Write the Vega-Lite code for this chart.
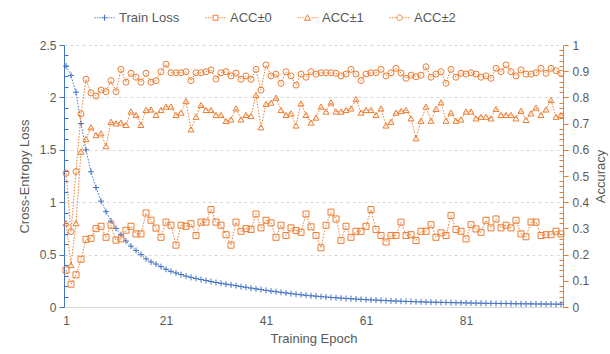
{
  "$schema": "https://vega.github.io/schema/vega-lite/v6.json",
  "width": 499,
  "height": 262,
  "autosize": {"type": "none"},
  "padding": {"left": 64, "top": 45, "right": 47, "bottom": 47},
  "background": "white",
  "config": {
    "view": {"stroke": null},
    "font": "Liberation Sans",
    "axis": {
      "labelFont": "Liberation Sans",
      "titleFont": "Liberation Sans",
      "labelFontSize": 12,
      "labelColor": "#595959",
      "titleFontSize": 13,
      "titleColor": "#595959",
      "titleFontWeight": "normal"
    }
  },
  "data": {"values": [
    {"epoch":1,"Train Loss":2.30,"ACC±0":0.141,"ACC±1":0.32,"ACC±2":0.511},
    {"epoch":2,"Train Loss":2.21,"ACC±0":0.087,"ACC±1":0.16,"ACC±2":0.288},
    {"epoch":3,"Train Loss":2.05,"ACC±0":0.123,"ACC±1":0.32,"ACC±2":0.517},
    {"epoch":4,"Train Loss":1.75,"ACC±0":0.182,"ACC±1":0.593,"ACC±2":0.737},
    {"epoch":5,"Train Loss":1.50,"ACC±0":0.258,"ACC±1":0.641,"ACC±2":0.869},
    {"epoch":6,"Train Loss":1.29,"ACC±0":0.262,"ACC±1":0.686,"ACC±2":0.817},
    {"epoch":7,"Train Loss":1.14,"ACC±0":0.299,"ACC±1":0.656,"ACC±2":0.805},
    {"epoch":8,"Train Loss":1.01,"ACC±0":0.308,"ACC±1":0.663,"ACC±2":0.828},
    {"epoch":9,"Train Loss":0.91,"ACC±0":0.266,"ACC±1":0.614,"ACC±2":0.822},
    {"epoch":10,"Train Loss":0.82,"ACC±0":0.312,"ACC±1":0.707,"ACC±2":0.864},
    {"epoch":11,"Train Loss":0.75,"ACC±0":0.255,"ACC±1":0.701,"ACC±2":0.822},
    {"epoch":12,"Train Loss":0.69,"ACC±0":0.26,"ACC±1":0.704,"ACC±2":0.907},
    {"epoch":13,"Train Loss":0.63,"ACC±0":0.293,"ACC±1":0.695,"ACC±2":0.858},
    {"epoch":14,"Train Loss":0.58,"ACC±0":0.308,"ACC±1":0.746,"ACC±2":0.892},
    {"epoch":15,"Train Loss":0.54,"ACC±0":0.279,"ACC±1":0.733,"ACC±2":0.877},
    {"epoch":16,"Train Loss":0.50,"ACC±0":0.279,"ACC±1":0.695,"ACC±2":0.858},
    {"epoch":17,"Train Loss":0.46,"ACC±0":0.359,"ACC±1":0.752,"ACC±2":0.892},
    {"epoch":18,"Train Loss":0.43,"ACC±0":0.331,"ACC±1":0.754,"ACC±2":0.858},
    {"epoch":19,"Train Loss":0.41,"ACC±0":0.301,"ACC±1":0.733,"ACC±2":0.864},
    {"epoch":20,"Train Loss":0.385,"ACC±0":0.266,"ACC±1":0.752,"ACC±2":0.898},
    {"epoch":21,"Train Loss":0.36,"ACC±0":0.324,"ACC±1":0.765,"ACC±2":0.927},
    {"epoch":22,"Train Loss":0.34,"ACC±0":0.312,"ACC±1":0.765,"ACC±2":0.894},
    {"epoch":23,"Train Loss":0.325,"ACC±0":0.236,"ACC±1":0.733,"ACC±2":0.894},
    {"epoch":24,"Train Loss":0.31,"ACC±0":0.312,"ACC±1":0.742,"ACC±2":0.894},
    {"epoch":25,"Train Loss":0.295,"ACC±0":0.308,"ACC±1":0.786,"ACC±2":0.898},
    {"epoch":26,"Train Loss":0.283,"ACC±0":0.318,"ACC±1":0.678,"ACC±2":0.864},
    {"epoch":27,"Train Loss":0.272,"ACC±0":0.273,"ACC±1":0.726,"ACC±2":0.894},
    {"epoch":28,"Train Loss":0.262,"ACC±0":0.324,"ACC±1":0.771,"ACC±2":0.894},
    {"epoch":29,"Train Loss":0.252,"ACC±0":0.324,"ACC±1":0.752,"ACC±2":0.898},
    {"epoch":30,"Train Loss":0.243,"ACC±0":0.372,"ACC±1":0.752,"ACC±2":0.905},
    {"epoch":31,"Train Loss":0.234,"ACC±0":0.324,"ACC±1":0.733,"ACC±2":0.870},
    {"epoch":32,"Train Loss":0.226,"ACC±0":0.312,"ACC±1":0.733,"ACC±2":0.894},
    {"epoch":33,"Train Loss":0.218,"ACC±0":0.276,"ACC±1":0.710,"ACC±2":0.898},
    {"epoch":34,"Train Loss":0.211,"ACC±0":0.236,"ACC±1":0.716,"ACC±2":0.882},
    {"epoch":35,"Train Loss":0.204,"ACC±0":0.324,"ACC±1":0.758,"ACC±2":0.893},
    {"epoch":36,"Train Loss":0.195,"ACC±0":0.289,"ACC±1":0.716,"ACC±2":0.869},
    {"epoch":37,"Train Loss":0.188,"ACC±0":0.299,"ACC±1":0.733,"ACC±2":0.882},
    {"epoch":38,"Train Loss":0.180,"ACC±0":0.296,"ACC±1":0.729,"ACC±2":0.869},
    {"epoch":39,"Train Loss":0.173,"ACC±0":0.355,"ACC±1":0.809,"ACC±2":0.907},
    {"epoch":40,"Train Loss":0.166,"ACC±0":0.302,"ACC±1":0.686,"ACC±2":0.828},
    {"epoch":41,"Train Loss":0.159,"ACC±0":0.331,"ACC±1":0.775,"ACC±2":0.924},
    {"epoch":42,"Train Loss":0.152,"ACC±0":0.321,"ACC±1":0.780,"ACC±2":0.882},
    {"epoch":43,"Train Loss":0.146,"ACC±0":0.266,"ACC±1":0.799,"ACC±2":0.889},
    {"epoch":44,"Train Loss":0.140,"ACC±0":0.312,"ACC±1":0.752,"ACC±2":0.854},
    {"epoch":45,"Train Loss":0.134,"ACC±0":0.273,"ACC±1":0.733,"ACC±2":0.898},
    {"epoch":46,"Train Loss":0.128,"ACC±0":0.302,"ACC±1":0.739,"ACC±2":0.882},
    {"epoch":47,"Train Loss":0.122,"ACC±0":0.292,"ACC±1":0.693,"ACC±2":0.847},
    {"epoch":48,"Train Loss":0.117,"ACC±0":0.285,"ACC±1":0.777,"ACC±2":0.889},
    {"epoch":49,"Train Loss":0.112,"ACC±0":0.355,"ACC±1":0.733,"ACC±2":0.877},
    {"epoch":50,"Train Loss":0.107,"ACC±0":0.306,"ACC±1":0.704,"ACC±2":0.898},
    {"epoch":51,"Train Loss":0.103,"ACC±0":0.273,"ACC±1":0.723,"ACC±2":0.889},
    {"epoch":52,"Train Loss":0.099,"ACC±0":0.226,"ACC±1":0.765,"ACC±2":0.894},
    {"epoch":53,"Train Loss":0.095,"ACC±0":0.312,"ACC±1":0.746,"ACC±2":0.894},
    {"epoch":54,"Train Loss":0.091,"ACC±0":0.362,"ACC±1":0.781,"ACC±2":0.894},
    {"epoch":55,"Train Loss":0.088,"ACC±0":0.336,"ACC±1":0.746,"ACC±2":0.892},
    {"epoch":56,"Train Loss":0.085,"ACC±0":0.254,"ACC±1":0.746,"ACC±2":0.882},
    {"epoch":57,"Train Loss":0.082,"ACC±0":0.308,"ACC±1":0.752,"ACC±2":0.889},
    {"epoch":58,"Train Loss":0.079,"ACC±0":0.266,"ACC±1":0.758,"ACC±2":0.907},
    {"epoch":59,"Train Loss":0.076,"ACC±0":0.289,"ACC±1":0.793,"ACC±2":0.889},
    {"epoch":60,"Train Loss":0.073,"ACC±0":0.289,"ACC±1":0.742,"ACC±2":0.864},
    {"epoch":61,"Train Loss":0.070,"ACC±0":0.308,"ACC±1":0.752,"ACC±2":0.889},
    {"epoch":62,"Train Loss":0.068,"ACC±0":0.372,"ACC±1":0.752,"ACC±2":0.894},
    {"epoch":63,"Train Loss":0.066,"ACC±0":0.296,"ACC±1":0.733,"ACC±2":0.894},
    {"epoch":64,"Train Loss":0.063,"ACC±0":0.273,"ACC±1":0.758,"ACC±2":0.907},
    {"epoch":65,"Train Loss":0.061,"ACC±0":0.248,"ACC±1":0.693,"ACC±2":0.882},
    {"epoch":66,"Train Loss":0.059,"ACC±0":0.273,"ACC±1":0.707,"ACC±2":0.894},
    {"epoch":67,"Train Loss":0.057,"ACC±0":0.273,"ACC±1":0.742,"ACC±2":0.911},
    {"epoch":68,"Train Loss":0.055,"ACC±0":0.324,"ACC±1":0.748,"ACC±2":0.893},
    {"epoch":69,"Train Loss":0.053,"ACC±0":0.273,"ACC±1":0.752,"ACC±2":0.873},
    {"epoch":70,"Train Loss":0.052,"ACC±0":0.276,"ACC±1":0.720,"ACC±2":0.885},
    {"epoch":71,"Train Loss":0.050,"ACC±0":0.254,"ACC±1":0.644,"ACC±2":0.879},
    {"epoch":72,"Train Loss":0.049,"ACC±0":0.289,"ACC±1":0.711,"ACC±2":0.885},
    {"epoch":73,"Train Loss":0.047,"ACC±0":0.289,"ACC±1":0.765,"ACC±2":0.917},
    {"epoch":74,"Train Loss":0.046,"ACC±0":0.314,"ACC±1":0.711,"ACC±2":0.877},
    {"epoch":75,"Train Loss":0.045,"ACC±0":0.266,"ACC±1":0.756,"ACC±2":0.889},
    {"epoch":76,"Train Loss":0.044,"ACC±0":0.283,"ACC±1":0.781,"ACC±2":0.898},
    {"epoch":77,"Train Loss":0.043,"ACC±0":0.273,"ACC±1":0.711,"ACC±2":0.854},
    {"epoch":78,"Train Loss":0.042,"ACC±0":0.349,"ACC±1":0.742,"ACC±2":0.907},
    {"epoch":79,"Train Loss":0.041,"ACC±0":0.296,"ACC±1":0.711,"ACC±2":0.877},
    {"epoch":80,"Train Loss":0.040,"ACC±0":0.289,"ACC±1":0.716,"ACC±2":0.892},
    {"epoch":81,"Train Loss":0.039,"ACC±0":0.26,"ACC±1":0.746,"ACC±2":0.889},
    {"epoch":82,"Train Loss":0.038,"ACC±0":0.314,"ACC±1":0.746,"ACC±2":0.894},
    {"epoch":83,"Train Loss":0.037,"ACC±0":0.298,"ACC±1":0.720,"ACC±2":0.889},
    {"epoch":84,"Train Loss":0.036,"ACC±0":0.285,"ACC±1":0.726,"ACC±2":0.877},
    {"epoch":85,"Train Loss":0.035,"ACC±0":0.331,"ACC±1":0.726,"ACC±2":0.882},
    {"epoch":86,"Train Loss":0.035,"ACC±0":0.302,"ACC±1":0.720,"ACC±2":0.873},
    {"epoch":87,"Train Loss":0.034,"ACC±0":0.336,"ACC±1":0.756,"ACC±2":0.911},
    {"epoch":88,"Train Loss":0.033,"ACC±0":0.302,"ACC±1":0.733,"ACC±2":0.898},
    {"epoch":89,"Train Loss":0.033,"ACC±0":0.312,"ACC±1":0.733,"ACC±2":0.924},
    {"epoch":90,"Train Loss":0.032,"ACC±0":0.302,"ACC±1":0.733,"ACC±2":0.898},
    {"epoch":91,"Train Loss":0.031,"ACC±0":0.331,"ACC±1":0.720,"ACC±2":0.882},
    {"epoch":92,"Train Loss":0.031,"ACC±0":0.279,"ACC±1":0.749,"ACC±2":0.905},
    {"epoch":93,"Train Loss":0.030,"ACC±0":0.268,"ACC±1":0.714,"ACC±2":0.889},
    {"epoch":94,"Train Loss":0.030,"ACC±0":0.324,"ACC±1":0.739,"ACC±2":0.889},
    {"epoch":95,"Train Loss":0.029,"ACC±0":0.324,"ACC±1":0.761,"ACC±2":0.894},
    {"epoch":96,"Train Loss":0.029,"ACC±0":0.273,"ACC±1":0.733,"ACC±2":0.911},
    {"epoch":97,"Train Loss":0.028,"ACC±0":0.276,"ACC±1":0.754,"ACC±2":0.892},
    {"epoch":98,"Train Loss":0.028,"ACC±0":0.276,"ACC±1":0.790,"ACC±2":0.911},
    {"epoch":99,"Train Loss":0.027,"ACC±0":0.289,"ACC±1":0.726,"ACC±2":0.902},
    {"epoch":100,"Train Loss":0.027,"ACC±0":0.279,"ACC±1":0.733,"ACC±2":0.892}
  ]},
  "encoding": {
    "x": {
      "field": "epoch",
      "type": "quantitative",
      "scale": {"domain": [0.6, 100.4], "nice": false, "zero": false},
      "axis": {
        "title": "Training Epoch",
        "values": [1, 21, 41, 61, 81],
        "grid": false,
        "ticks": false,
        "domainColor": "#D9D9D9",
        "labelPadding": 8,
        "titlePadding": 6
      }
    },
    "color": {
      "field": "series",
      "type": "nominal",
      "scale": {
        "domain": ["Train Loss", "ACC±0", "ACC±1", "ACC±2"],
        "range": ["#4472C4", "#ED7D31", "#ED7D31", "#ED7D31"]
      },
      "legend": {
        "orient": "none",
        "legendX": 30,
        "legendY": -38,
        "direction": "horizontal",
        "title": null,
        "labelFont": "Liberation Sans",
        "labelFontSize": 13,
        "labelColor": "#595959",
        "symbolSize": 400,
        "symbolStrokeWidth": 1,
        "symbolDash": [],
        "labelOffset": 4,
        "columnPadding": 23,
        "encode": {
          "symbols": {
            "update": {
              "shape": {"signal": "datum.value === 'Train Loss' ? 'M-1,0H-0.88M-0.76,0H-0.64M-0.52,0H-0.4M0.4,0H0.52M0.64,0H0.76M0.88,0H1M-0.3,0H0.3M0,-0.3V0.3' : datum.value === 'ACC±0' ? 'M-1,0H-0.88M-0.76,0H-0.64M-0.52,0H-0.4M0.4,0H0.52M0.64,0H0.76M0.88,0H1M-0.25,-0.25H0.25V0.25H-0.25Z' : datum.value === 'ACC±1' ? 'M-1,0H-0.88M-0.76,0H-0.64M-0.52,0H-0.4M0.4,0H0.52M0.64,0H0.76M0.88,0H1M0,-0.3L0.3,0.25H-0.3Z' : 'M-1,0H-0.88M-0.76,0H-0.64M-0.52,0H-0.4M0.4,0H0.52M0.64,0H0.76M0.88,0H1M-0.28,0A0.28,0.28,0,1,1,0.28,0A0.28,0.28,0,1,1,-0.28,0'"},
              "fill": {"value": "transparent"}
            }
          }
        }
      }
    }
  },
  "layer": [
    {
      "transform": [{"fold": ["Train Loss"], "as": ["series", "value"]}],
      "encoding": {
        "y": {
          "field": "value",
          "type": "quantitative",
          "scale": {"domain": [0, 2.5], "nice": false},
          "axis": {
            "orient": "left",
            "title": "Cross-Entropy Loss",
            "values": [0,0.1,0.2,0.3,0.4,0.5,0.6,0.7,0.8,0.9,1,1.1,1.2,1.3,1.4,1.5,1.6,1.7,1.8,1.9,2,2.1,2.2,2.3,2.4,2.5],
            "labelExpr": "abs(datum.value*2-round(datum.value*2))<0.001 ? format(datum.value,'~g') : ''",
            "labelOverlap": false,
            "labelBound": false,
            "labelFlush": false,
            "domainColor": "#4472C4",
            "tickColor": "#4472C4",
            "tickSize": {"condition": {"test": "abs(datum.value*2-round(datum.value*2))<0.001", "value": 5}, "value": -4},
            "grid": true,
            "gridColor": "#D9D9D9",
            "gridDash": [3, 3],
            "gridOpacity": {"condition": {"test": "abs(datum.value*2-round(datum.value*2))<0.001 && datum.value > 0", "value": 1}, "value": 0},
            "labelPadding": 3,
            "titlePadding": 8
          }
        }
      },
      "layer": [
        {"mark": {"type": "line", "strokeWidth": 1, "strokeDash": [1.5, 1.5]}},
        {"mark": {"type": "point", "shape": "M-1,0H1M0,-1V1", "size": 36, "filled": false, "strokeWidth": 1, "opacity": 1}}
      ]
    },
    {
      "transform": [{"fold": ["ACC±0", "ACC±1", "ACC±2"], "as": ["series", "value"]}],
      "encoding": {
        "y": {
          "field": "value",
          "type": "quantitative",
          "scale": {"domain": [0, 1], "nice": false},
          "axis": {
            "orient": "right",
            "title": "Accuracy",
            "titleAngle": 270,
            "titleBaseline": "top",
            "values": [0,0.02,0.04,0.06,0.08,0.1,0.12,0.14,0.16,0.18,0.2,0.22,0.24,0.26,0.28,0.3,0.32,0.34,0.36,0.38,0.4,0.42,0.44,0.46,0.48,0.5,0.52,0.54,0.56,0.58,0.6,0.62,0.64,0.66,0.68,0.7,0.72,0.74,0.76,0.78,0.8,0.82,0.84,0.86,0.88,0.9,0.92,0.94,0.96,0.98,1],
            "labelExpr": "abs(datum.value*10-round(datum.value*10))<0.001 ? format(datum.value,'~g') : ''",
            "labelOverlap": false,
            "labelBound": false,
            "labelFlush": false,
            "domainColor": "#ED7D31",
            "tickColor": "#ED7D31",
            "tickSize": {"condition": {"test": "abs(datum.value*10-round(datum.value*10))<0.001", "value": 5}, "value": -4},
            "grid": false,
            "labelPadding": 4,
            "titlePadding": 6
          }
        }
      },
      "layer": [
        {"mark": {"type": "line", "strokeWidth": 1, "strokeDash": [1.5, 1.5]}},
        {
          "mark": {"type": "point", "size": 36, "filled": false, "strokeWidth": 1, "opacity": 1},
          "encoding": {
            "shape": {
              "field": "series",
              "type": "nominal",
              "scale": {"domain": ["ACC±0", "ACC±1", "ACC±2"], "range": ["square", "triangle-up", "circle"]},
              "legend": null
            }
          }
        }
      ]
    }
  ],
  "resolve": {"scale": {"y": "independent"}}
}
